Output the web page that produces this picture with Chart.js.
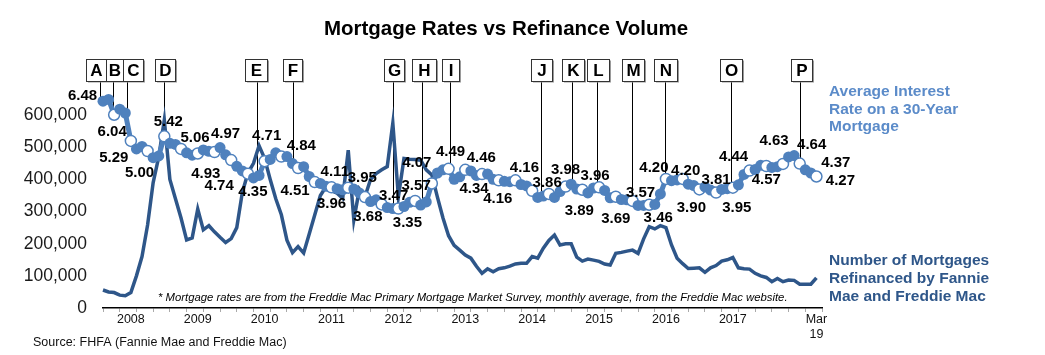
<!DOCTYPE html>
<html>
<head>
<meta charset="utf-8">
<script src="https://cdn.jsdelivr.net/npm/chart.js@4.4.1/dist/chart.umd.min.js"></script>
<style>
  html, body { margin: 0; padding: 0; background: #fff; }
  #wrap { width: 1045px; height: 355px; position: relative; }
</style>
</head>
<body>
<div id="wrap"><canvas id="c" width="1045" height="355"></canvas></div>
<script>
// ---------- DATA (month index 0 = Jul 2008 ... 128 = Mar 2019) ----------
const rates = [
  6.43, 6.48, 6.04, 6.20, 6.09, 5.29,
  5.06, 5.13, 5.00, 4.81, 4.86, 5.42, 5.22, 5.19, 5.06, 4.95, 4.88, 4.93,
  5.03, 4.99, 4.97, 5.10, 4.89, 4.74, 4.56, 4.43, 4.35, 4.23, 4.30, 4.71,
  4.76, 4.95, 4.84, 4.84, 4.64, 4.51, 4.55, 4.27, 4.11, 4.07, 3.99, 3.96,
  3.92, 3.89, 3.95, 3.91, 3.80, 3.68, 3.55, 3.60, 3.47, 3.38, 3.35, 3.35,
  3.41, 3.53, 3.57, 3.45, 3.54, 4.07, 4.37, 4.46, 4.49, 4.19, 4.26, 4.46,
  4.43, 4.30, 4.34, 4.34, 4.19, 4.16, 4.13, 4.12, 4.16, 4.04, 4.00, 3.86,
  3.67, 3.71, 3.77, 3.67, 3.84, 3.98, 4.05, 3.91, 3.89, 3.80, 3.94, 3.96,
  3.87, 3.66, 3.69, 3.61, 3.60, 3.57, 3.44, 3.44, 3.46, 3.47, 3.77, 4.20,
  4.15, 4.17, 4.20, 4.05, 4.01, 3.90, 3.97, 3.88, 3.81, 3.90, 3.92, 3.95,
  4.03, 4.33, 4.44, 4.47, 4.59, 4.57, 4.53, 4.55, 4.63, 4.83, 4.87, 4.64,
  4.46, 4.37, 4.27
];
const refis = [
  56000, 50000, 48000, 40000, 38000, 48000, 100000, 160000, 258000, 390000,
  470000, 585000, 400000, 340000, 280000, 212000, 218000, 308000, 243000, 256000,
  237000, 220000, 204000, 216000, 250000, 360000, 420000, 450000, 505000, 465000,
  400000, 340000, 290000, 211000, 172000, 191000, 171000, 230000, 290000, 350000,
  377000, 365000, 357000, 341000, 491000, 274000, 370000, 346000, 400000, 418000,
  430000, 440000, 575000, 346000, 465000, 463000, 462000, 460000, 430000, 414000,
  345000, 280000, 225000, 195000, 180000, 165000, 155000, 130000, 108000, 122000,
  113000, 122000, 125000, 130000, 137000, 139000, 139000, 160000, 155000, 186000,
  210000, 227000, 196000, 200000, 200000, 158000, 146000, 152000, 149000, 145000,
  137000, 134000, 170000, 173000, 177000, 180000, 170000, 215000, 253000, 246000,
  256000, 250000, 196000, 155000, 138000, 123000, 124000, 125000, 111000, 125000,
  132000, 146000, 150000, 157000, 125000, 122000, 121000, 108000, 100000, 95000,
  82000, 92000, 82000, 87000, 86000, 74000, 74000, 74000, 94000
];
// tick labels on the time axis
const yearTickIdx = [5, 17, 29, 41, 53, 65, 77, 89, 101, 113, 128];
const yearTickLabels = ['2008','2009','2010','2011','2012','2013','2014','2015','2016','2017',['Mar','19']];
// event markers
const eventLetters = ['A','B','C','D','E','F','G','H','I','J','K','L','M','N','O','P'];
const eventIdx = [-0.5, 1.8, 4.3, 10.9, 27.6, 34, 52, 57.3, 62.2, 78.5, 84.2, 88.7, 94.9, 100.9, 112.7, 125.1];
// labelled rate points (month indices)
const labelIdx = [1,2,5,8,11,14,17,20,23,26,29,32,35,38,41,44,47,50,53,56,59,62,65,68,71,74,77,83,86,89,92,95,98,101,104,107,110,113,116,119,122,125,127,128];

// ---------- LAYOUT (not data) ----------
const labelDx = [-26,-2,-17,-8,4,14,8,11,-12,5,2,20,-3,20,0,14,3,12,9,1,-15,2,16,-8,-1,9,15,0,-3,-4,0,8,9,-12,3,-8,0,4,-16,0,-9,12,25,24];
const labelDy = [-4,17,17,22,-15,-11,20,-18,26,18,-25,-11,23,-10,17,-10,20,-9,14,-15,-21,-17,-12,15,19,-12,-8,-17,21,-11,22,-8,13,-11,-8,18,-13,20,-14,14,-23,-19,-10,4];
const boxShift = [-4,1.5,6,1,-1,0,1,2,1,1,1,1,1,0,0,1];
const boxW = [20,17,20,20,22,19,20,24,17,21,22,22,22,23,22,21];

const RATE_BLUE = '#4F81BD';
const REFI_BLUE = '#2E5689';
const FONT = "'Liberation Sans', Arial, sans-serif";

function rateAt(idx) {
  if (idx <= 0) return rates[0];
  const i0 = Math.floor(idx), f = idx - i0;
  if (i0 >= rates.length - 1) return rates[rates.length - 1];
  return rates[i0] * (1 - f) + rates[i0 + 1] * f;
}

const overlay = {
  id: 'overlay',
  beforeDatasetsDraw(chart) {
    const ctx = chart.ctx, xs = chart.scales.x, ys = chart.scales.y1;
    ctx.save();
    ctx.strokeStyle = '#000';
    ctx.lineWidth = 1;
    eventIdx.forEach((ix) => {
      const x = Math.round(xs.getPixelForValue(ix)) + 0.5;
      const y = ys.getPixelForValue(rateAt(ix));
      ctx.beginPath();
      ctx.moveTo(x, 81);
      ctx.lineTo(x, y);
      ctx.stroke();
    });
    ctx.restore();
  },
  afterDatasetsDraw(chart) {
    const ctx = chart.ctx, xs = chart.scales.x, ys = chart.scales.y1;
    ctx.save();
    // value labels
    ctx.font = 'bold 15px ' + FONT;
    ctx.fillStyle = '#000';
    ctx.textAlign = 'center';
    ctx.textBaseline = 'middle';
    labelIdx.forEach((ix, k) => {
      const x = xs.getPixelForValue(ix) + labelDx[k];
      const y = ys.getPixelForValue(rates[ix]) + labelDy[k];
      ctx.fillText(rates[ix].toFixed(2), x, y);
    });
    // event boxes
    ctx.font = 'bold 17px ' + FONT;
    eventIdx.forEach((ix, k) => {
      const cx = xs.getPixelForValue(ix) + boxShift[k];
      const w = boxW[k], h = 22, top = 59;
      const l = Math.round(cx - w / 2) + 0.5;
      ctx.fillStyle = '#9a9a9a';
      ctx.fillRect(l + 1.5, top + 1.5, w, h);
      ctx.fillStyle = '#fff';
      ctx.fillRect(l, top, w, h);
      ctx.strokeStyle = '#333';
      ctx.lineWidth = 1;
      ctx.strokeRect(l, top + 0.5, w, h);
      ctx.fillStyle = '#000';
      ctx.fillText(eventLetters[k], l + w / 2, top + h / 2 + 1);
    });
    ctx.restore();
  },
  afterDraw(chart) {
    const ctx = chart.ctx;
    ctx.save();
    ctx.textBaseline = 'middle';
    // title
    ctx.fillStyle = '#000';
    ctx.textAlign = 'center';
    ctx.font = 'bold 20.5px ' + FONT;
    ctx.fillText('Mortgage Rates vs Refinance Volume', 506, 29);
    // legend texts
    ctx.textAlign = 'left';
    ctx.font = 'bold 15.5px ' + FONT;
    ctx.fillStyle = '#5B8BC9';
    ['Average Interest', 'Rate on a 30-Year', 'Mortgage'].forEach((t, i) => ctx.fillText(t, 829, 92 + i * 17.5));
    ctx.fillStyle = REFI_BLUE;
    ['Number of Mortgages', 'Refinanced by Fannie', 'Mae and Freddie Mac'].forEach((t, i) => ctx.fillText(t, 829, 261 + i * 18));
    // footnote
    ctx.fillStyle = '#000';
    ctx.font = 'italic 11.3px ' + FONT;
    ctx.fillText('* Mortgage rates are from the Freddie Mac Primary Mortgage Market Survey, monthly average, from the Freddie Mac website.', 158, 298);
    // source
    ctx.font = '12.5px ' + FONT;
    ctx.fillStyle = '#111';
    ctx.fillText('Source: FHFA (Fannie Mae and Freddie Mac)', 33, 343);
    ctx.restore();
  }
};

new Chart(document.getElementById('c'), {
  type: 'line',
  data: {
    datasets: [
      {
        label: 'Average Interest Rate on a 30-Year Mortgage',
        data: rates.map((v, i) => ({ x: i, y: v })),
        yAxisID: 'y1',
        order: 0,
        borderColor: RATE_BLUE,
        borderWidth: 5,
        tension: 0,
        clip: false,
        pointRadius: 5.5,
        pointBackgroundColor: ctx => (ctx.dataIndex % 3 === 2 ? '#fff' : RATE_BLUE),
        pointBorderColor: RATE_BLUE,
        pointBorderWidth: ctx => (ctx.dataIndex % 3 === 2 ? 1.5 : 0),
      },
      {
        label: 'Number of Mortgages Refinanced by Fannie Mae and Freddie Mac',
        data: refis.map((v, i) => ({ x: i, y: v })),
        yAxisID: 'y',
        order: 1,
        borderColor: REFI_BLUE,
        borderWidth: 3.5,
        tension: 0,
        pointRadius: 0,
        clip: false,
      }
    ]
  },
  options: {
    responsive: false,
    devicePixelRatio: 1,
    animation: false,
    layout: { padding: { top: 83, right: 223, left: 0, bottom: 0 } },
    plugins: { legend: { display: false }, tooltip: { enabled: false }, title: { display: false } },
    scales: {
      x: {
        type: 'linear',
        min: 0,
        max: 129,
        afterBuildTicks: s => { const t = []; for (let v = 0; v <= 129; v++) t.push({ value: v }); s.ticks = t; },
        ticks: {
          autoSkip: false,
          maxRotation: 0,
          padding: 0,
          color: '#111',
          font: { family: FONT, size: 12.5 },
          callback: v => { const k = yearTickIdx.indexOf(v); return k >= 0 ? yearTickLabels[k] : ''; }
        },
        grid: {
          display: true,
          drawOnChartArea: false,
          drawTicks: true,
          tickLength: 4,
          tickColor: c => (c.tick && c.tick.value % 3 === 0 ? '#aaa' : 'rgba(0,0,0,0)'),
          lineWidth: 1
        },
        border: { display: true, color: '#000', width: 1.5 },
        afterFit: s => { s.height = 47; }
      },
      y: {
        position: 'left',
        min: 0,
        max: 700000,
        ticks: {
          stepSize: 100000,
          padding: 16,
          color: '#1a1a1a',
          font: { family: FONT, size: 17.5 },
          callback: v => (v >= 700000 ? '' : v.toLocaleString('en-US'))
        },
        grid: { display: false, drawTicks: false },
        border: { display: false },
        afterFit: s => { s.width = 103; }
      },
      y1: {
        position: 'right',
        min: 0.5,
        max: 6.95,
        display: false
      }
    }
  },
  plugins: [overlay]
});
</script>
</body>
</html>
